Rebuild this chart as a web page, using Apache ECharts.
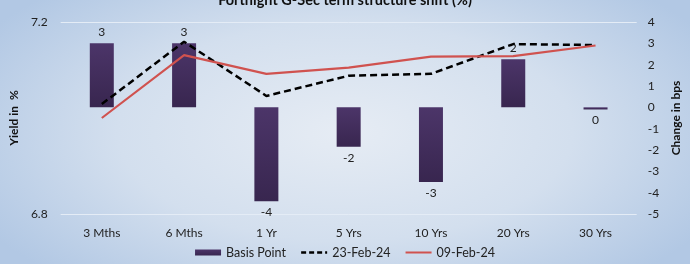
<!DOCTYPE html>
<html>
<head>
<meta charset="utf-8">
<script src="https://cdn.jsdelivr.net/npm/echarts@6/dist/echarts.min.js"></script>
<style>
  html, body { margin: 0; padding: 0; }
  #chart {
    width: 690px; height: 264px;
    background: radial-gradient(ellipse 60% 75% at 50% 50%, #e6ecf4 0%, #d3dfee 55%, #b2c8e4 100%);
  }
</style>
</head>
<body>
<div id="chart"></div>
<script>
// tenor buckets on the x axis
var categories = ['3 Mths', '6 Mths', '1 Yr', '5 Yrs', '10 Yrs', '20 Yrs', '30 Yrs']
// change in bps (right axis)
var basisPoint = [3.0, 3.0, -4.4, -1.85, -3.5, 2.25, -0.1]
// yields in % (left axis)
var feb23 = [7.029, 7.159, 7.046, 7.088, 7.092, 7.154, 7.152]
var feb09 = [7.0, 7.131, 7.092, 7.105, 7.128, 7.129, 7.151]

var font = 'Lato'
var chart = echarts.init(document.getElementById('chart'))
chart.setOption({
    backgroundColor: 'transparent',
    textStyle: { fontFamily: font },
    title: {
        text: 'Fortnight G-Sec term structure shift (%)',
        left: 'center',
        top: -12,
        textStyle: { fontSize: 14.5, fontWeight: 'bold', color: '#111', fontFamily: font }
    },
    legend: {
        bottom: 0,
        left: 'center',
        itemGap: 14,
        itemWidth: 26,
        itemHeight: 6,
        textStyle: { fontSize: 12.5, color: '#222', fontFamily: font },
        data: [
            { name: 'Basis Point', icon: 'rect' },
            { name: '23-Feb-24', itemStyle: { opacity: 0 }, lineStyle: { width: 2.5, type: [5, 3] } },
            { name: '09-Feb-24', itemStyle: { opacity: 0 } }
        ]
    },
    grid: { left: 56, right: 43, top: 22, bottom: 50 },
    xAxis: {
        type: 'category',
        data: categories,
        axisLine: { show: false },
        axisTick: { show: false },
        axisLabel: { fontSize: 12, color: '#222', margin: 13, fontFamily: font }
    },
    yAxis: [
        {
            type: 'value',
            min: 6.8,
            max: 7.2,
            interval: 0.4,
            name: 'Yield in  %',
            nameLocation: 'middle',
            nameGap: 35,
            nameTextStyle: { fontSize: 12, fontWeight: 'bold', color: '#111', fontFamily: font },
            axisLine: { show: false },
            axisTick: { show: false },
            axisLabel: { fontSize: 12, color: '#222', margin: 13, formatter: function (v) { return v.toFixed(1) } },
            splitLine: { lineStyle: { color: '#e4ecf6', width: 1 } }
        },
        {
            type: 'value',
            min: -5,
            max: 4,
            interval: 1,
            position: 'right',
            name: 'Change in bps',
            nameLocation: 'middle',
            nameRotate: 90,
            nameGap: 28,
            nameTextStyle: { fontSize: 12, fontWeight: 'bold', color: '#111', fontFamily: font },
            axisLine: { show: false },
            axisTick: { show: false },
            axisLabel: { fontSize: 12, color: '#222', margin: 11 },
            splitLine: { show: false }
        }
    ],
    series: [
        {
            name: 'Basis Point',
            type: 'bar',
            yAxisIndex: 1,
            barWidth: 24,
            itemStyle: {
                color: new echarts.graphic.LinearGradient(0, 0, 0, 1, [
                    { offset: 0, color: '#4c3569' },
                    { offset: 1, color: '#38264f' }
                ])
            },
            label: {
                show: true,
                distance: 5,
                fontSize: 12,
                color: '#222',
                fontFamily: font,
                formatter: function (p) {
                    var r = Math.round(p.value)
                    return r === 0 ? '0' : String(r)
                }
            },
            data: basisPoint.map(function (v) {
                return { value: v, label: { position: v >= 0 ? 'top' : 'bottom' } }
            })
        },
        {
            name: '23-Feb-24',
            type: 'line',
            yAxisIndex: 0,
            symbol: 'none',
            z: 3,
            lineStyle: { color: '#000', width: 2.5, type: [7, 4] },
            itemStyle: { color: '#000' },
            data: feb23
        },
        {
            name: '09-Feb-24',
            type: 'line',
            yAxisIndex: 0,
            symbol: 'none',
            z: 4,
            lineStyle: { color: '#d0524f', width: 2.2 },
            itemStyle: { color: '#d0524f' },
            data: feb09
        }
    ]
})
</script>
</body>
</html>
